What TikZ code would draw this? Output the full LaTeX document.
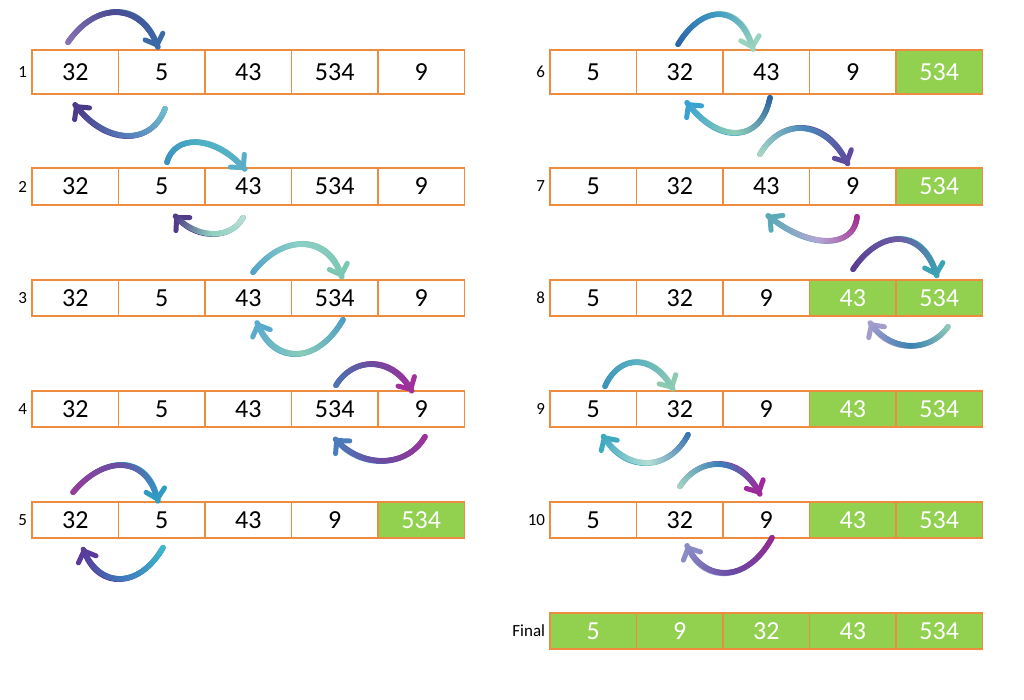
\documentclass[tikz,border=0pt]{standalone}
\usepackage{fontspec}
\setmainfont{Carlito}
\usetikzlibrary{arrows.meta,decorations.markings}
\definecolor{cellorange}{HTML}{ED8B3F}
\definecolor{cellgreen}{HTML}{92D050}
\newcommand\brushdot{%
  \pgfmathsetmacro\bp{\pgfkeysvalueof{/pgf/decoration/mark info/distance from start}/\pgfdecoratedpathlength}%
  \ifdim\bp pt<0.5pt
    \pgfmathtruncatemacro\bq{max(0,min(100,100-200*\bp))}\colorlet{bc}{brA!\bq!brB}%
  \else
    \pgfmathtruncatemacro\bq{max(0,min(100,200-200*\bp))}\colorlet{bc}{brB!\bq!brC}%
  \fi
  \fill[bc] (0,0) circle (2.8pt);}
\tikzset{
  cell/.style={draw=cellorange, line width=1.4pt, minimum width=86.5pt, inner sep=0pt,
    font=\fontsize{26}{30}\selectfont, anchor=center},
  lbl/.style={font=\fontsize{17}{19}\selectfont, anchor=east, inner sep=0pt},
  brush/.style n args={3}{/utils/exec={\definecolor{brA}{HTML}{#1}\definecolor{brB}{HTML}{#2}\definecolor{brC}{HTML}{#3}},
    draw=brC, line width=5.4pt, line cap=round,
    -{Straight Barb[length=9pt,width=19pt,line width=5pt,round]},
    postaction={decorate,decoration={markings,mark=between positions 0 and 1 step 0.9pt with {\brushdot}}}},
}
\newcommand\cellrow[5]{%
  \foreach \cv/\cf/\ct [count=\ci] in {#5} {
    \node[cell, minimum height=#4, fill=\cf, text=\ct] (#1c\ci) at ({#2+86.5*\ci-43.25}, #3) {\cv};
  }}
\begin{document}
\begin{tikzpicture}[x=1pt,y=1pt]
\fill[white] (0,0) rectangle (1024,-699);
\useasboundingbox (0,0) rectangle (1024,-699);
% left column
\cellrow{r1}{32}{-72}{44pt}{32/white/black,5/white/black,43/white/black,534/white/black,9/white/black}
\cellrow{r2}{32}{-186.5}{37pt}{32/white/black,5/white/black,43/white/black,534/white/black,9/white/black}
\cellrow{r3}{32}{-298}{36pt}{32/white/black,5/white/black,43/white/black,534/white/black,9/white/black}
\cellrow{r4}{32}{-409}{36pt}{32/white/black,5/white/black,43/white/black,534/white/black,9/white/black}
\cellrow{r5}{32}{-520}{36pt}{32/white/black,5/white/black,43/white/black,9/white/black,534/cellgreen/white}
% right column
\cellrow{r6}{550}{-72}{44pt}{5/white/black,32/white/black,43/white/black,9/white/black,534/cellgreen/white}
\cellrow{r7}{550}{-186.5}{37pt}{5/white/black,32/white/black,43/white/black,9/white/black,534/cellgreen/white}
\cellrow{r8}{550}{-298}{36pt}{5/white/black,32/white/black,9/white/black,43/cellgreen/white,534/cellgreen/white}
\cellrow{r9}{550}{-409}{36pt}{5/white/black,32/white/black,9/white/black,43/cellgreen/white,534/cellgreen/white}
\cellrow{r10}{550}{-520}{36pt}{5/white/black,32/white/black,9/white/black,43/cellgreen/white,534/cellgreen/white}
\cellrow{fin}{550}{-631}{36pt}{5/cellgreen/white,9/cellgreen/white,32/cellgreen/white,43/cellgreen/white,534/cellgreen/white}
% row labels
\node[lbl] (l1) at ([xshift=-4pt]r1c1.west) {1};
\node[lbl] (l2) at ([xshift=-4pt]r2c1.west) {2};
\node[lbl] (l3) at ([xshift=-4pt]r3c1.west) {3};
\node[lbl] (l4) at ([xshift=-4pt]r4c1.west) {4};
\node[lbl] (l5) at ([xshift=-4pt]r5c1.west) {5};
\node[lbl] (l6) at ([xshift=-4pt]r6c1.west) {6};
\node[lbl] (l7) at ([xshift=-4pt]r7c1.west) {7};
\node[lbl] (l8) at ([xshift=-4pt]r8c1.west) {8};
\node[lbl] (l9) at ([xshift=-4pt]r9c1.west) {9};
\node[lbl] (l10) at ([xshift=-4pt]r10c1.west) {10};
\node[lbl] (lfin) at ([xshift=-4pt]finc1.west) {Final};
% swap arrows, left column
\draw[brush={8B72B5}{4A4B92}{3A6AA8}] ([shift={(-7.25,7)}]r1c1.north) .. controls +(27.8,40.8) and +(-17.2,45.8) .. ([shift={(-3.75,2)}]r1c2.north);
\draw[brush={6CC3CF}{5678B8}{4B3A8A}] ([shift={(3.25,-14)}]r1c2.south) .. controls +(-13.2,-36.7) and +(31.8,-40.7) .. ([shift={(-0.25,-10)}]r1c1.south);
\draw[brush={3A8FC0}{4DB3C4}{5AAEC6}] ([shift={(5.25,5)}]r2c2.north) .. controls +(7.5,27.8) and +(-31.5,34.8) .. ([shift={(-3.25,-2)}]r2c3.north);
\draw[brush={B8E0D4}{90D0C0}{503C88}] ([shift={(-5.25,-12)}]r2c3.south) .. controls +(-11.7,-21.7) and +(22.3,-23.7) .. ([shift={(13.25,-10)}]r2c2.south);
\draw[brush={4FA3CA}{8DD0C6}{7CC7B4}] ([shift={(4.75,7)}]r3c3.north) .. controls +(29.6,38.2) and +(-14.9,43.2) .. ([shift={(7.25,2)}]r3c4.north);
\draw[brush={4E9CC4}{88CDB8}{5AAAD0}] ([shift={(8.25,-3)}]r3c4.south) .. controls +(-25.5,-44.8) and +(17.5,-41.8) .. ([shift={(8.75,-6)}]r3c3.south);
\draw[brush={4A78B5}{6A4C9E}{A2309C}] ([shift={(1.25,5)}]r4c4.north) .. controls +(17.7,29) and +(-20.3,35) .. ([shift={(-9.25,-1)}]r4c5.north);
\draw[brush={A2309A}{6E4AA0}{4A7DBC}] ([shift={(3.75,-9)}]r4c5.south) .. controls +(-18.5,-31.7) and +(26.5,-29.7) .. ([shift={(0.25,-11)}]r4c4.south);
\draw[brush={9A3A9C}{6A4FA2}{2F9CC6}] ([shift={(-2.25,9)}]r5c1.north) .. controls +(31.25,37.5) and +(-11.25,46.5) .. ([shift={(-3.75,0)}]r5c2.north);
\draw[brush={3DBCCC}{3E7CBE}{5A3A9A}] ([shift={(1.25,-9)}]r5c2.south) .. controls +(-24,-41.2) and +(16,-40.2) .. ([shift={(7.75,-10)}]r5c1.south);
% swap arrows, right column
\draw[brush={2D62AA}{3E9CC2}{9AD4BE}] ([shift={(-1.75,5)}]r6c2.north) .. controls +(24.75,40.8) and +(-12.75,45.8) .. ([shift={(-13.25,0)}]r6c3.north);
\draw[brush={2A5EA0}{8ED0B8}{3AA2D2}] ([shift={(3.75,-3)}]r6c3.south) .. controls +(-9.4,-45.8) and +(32.1,-40.8) .. ([shift={(7.25,-8)}]r6c2.south);
\draw[brush={A8DCC2}{4A88BC}{5E4A9E}] ([shift={(-6.25,13)}]r7c3.north) .. controls +(20.7,36.3) and +(-23.3,46.3) .. ([shift={(-4.75,3)}]r7c4.north);
\draw[brush={A4268E}{B4A6D4}{5AAAB8}] ([shift={(4.25,-11)}]r7c4.south) .. controls +(-2.9,-32.2) and +(41.6,-33.2) .. ([shift={(1.75,-10)}]r7c3.south);
\draw[brush={5A3A92}{6C5CA4}{3AA4B4}] ([shift={(0.25,10)}]r8c4.north) .. controls +(27.7,41.2) and +(-14.3,48.2) .. ([shift={(-2.25,3)}]r8c5.north);
\draw[brush={90CCB8}{3A82B2}{A49CCC}] ([shift={(8.75,-10)}]r8c5.south) .. controls +(-18.2,-26) and +(20.8,-30) .. ([shift={(17.25,-6)}]r8c4.south);
\draw[brush={3A92BA}{5AB2C2}{8ECAB2}] ([shift={(11.75,4)}]r9c1.north) .. controls +(14.3,32.5) and +(-19.7,35.5) .. ([shift={(-6.75,1)}]r9c2.north);
\draw[brush={3A6EB0}{B4DED4}{3EAAC2}] ([shift={(8.25,-7)}]r9c2.south) .. controls +(-19.25,-37.2) and +(23.25,-36.2) .. ([shift={(9.75,-8)}]r9c1.south);
\draw[brush={A4D8C2}{3A80B8}{A0289A}] ([shift={(0.25,15)}]r10c2.north) .. controls +(20,30.7) and +(-20,38.7) .. ([shift={(-6.25,7)}]r10c3.north);
\draw[brush={9A2892}{6A48A4}{8A8CC6}] ([shift={(5.75,1)}]r10c3.south) .. controls +(-24.6,-45.3) and +(17.9,-37.3) .. ([shift={(7.25,-7)}]r10c2.south);
\end{tikzpicture}
\end{document}
